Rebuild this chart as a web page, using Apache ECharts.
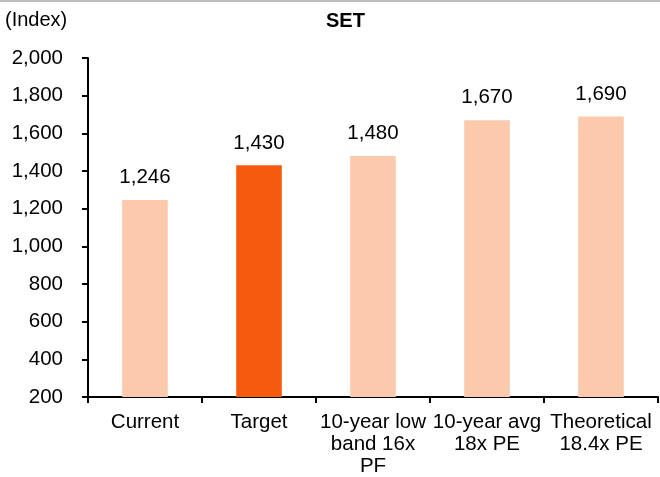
<!DOCTYPE html>
<html><head><meta charset="utf-8">
<script src="https://cdn.jsdelivr.net/npm/echarts@6/dist/echarts.min.js"></script>
<style>html,body{margin:0;padding:0;background:#fff}#c{width:660px;height:477px}</style>
</head><body><div id="c"></div>
<script>
const categories = ["Current", "Target", "10-year low\nband 16x\nPF", "10-year avg\n18x PE", "Theoretical\n18.4x PE"];
const values = [1246, 1430, 1480, 1670, 1690];
const highlightIndex = 1;
const yMin = 200, yMax = 2000, yStep = 200;
const FONT = "'Liberation Sans', Arial, sans-serif";
const chart = echarts.init(document.getElementById('c'));
chart.setOption({
  animation: false,
  graphic: [
    {type:'line', shape:{x1:0,y1:1,x2:660,y2:1}, style:{stroke:'#bdbdbd', lineWidth:2}},
    {type:'text', left:5, top:10, style:{text:'(Index)', font:"20px "+FONT, fill:'#000'}},
    {type:'text', left:326, top:11, style:{text:'SET', font:"bold 20px "+FONT, fill:'#000'}}
  ],
  grid: {left:88, right:2, top:58, bottom:79, containLabel:false},
  xAxis: {
    type:'category', data:categories,
    axisLine:{lineStyle:{color:'#000', width:2}},
    axisTick:{show:true, length:6, lineStyle:{color:'#000', width:2}, alignWithLabel:false},
    axisLabel:{color:'#000', fontSize:20.5, fontFamily:FONT, interval:0, margin:14, lineHeight:22}
  },
  yAxis: {
    type:'value', min:yMin, max:yMax, interval:yStep,
    axisLine:{show:true, lineStyle:{color:'#000', width:2}},
    axisTick:{show:true, inside:false, length:6, lineStyle:{color:'#000', width:2}},
    splitLine:{show:false},
    axisLabel:{color:'#000', fontSize:20.5, fontFamily:FONT, margin:25,
      formatter:v=>v.toLocaleString('en-US')}
  },
  series: [{
    type:'bar', barWidth:'40%',
    data: values.map((v,i)=>({value:v, itemStyle:{color: i===highlightIndex ? '#F55A0E' : '#FBC9AB'}})),
    label:{show:true, position:'top', distance:12, color:'#000', fontSize:20.5, fontFamily:FONT,
      formatter:p=>p.value.toLocaleString('en-US')}
  }]
});
</script></body></html>
